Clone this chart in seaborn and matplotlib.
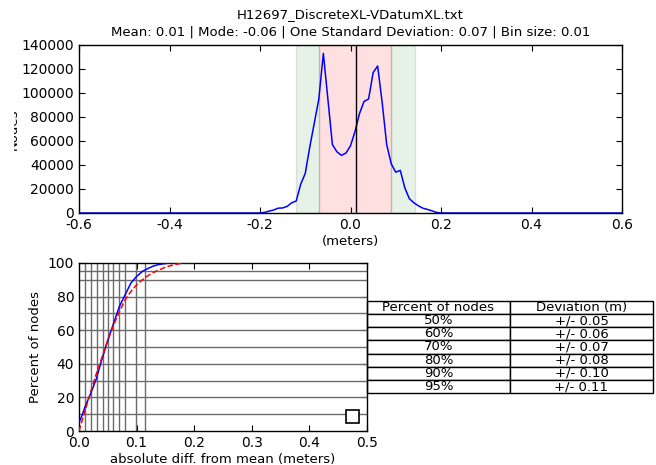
import numpy as np
import pandas as pd
import matplotlib
matplotlib.use("Agg")
import matplotlib.pyplot as plt
import seaborn as sns
from matplotlib.patches import Rectangle

# histogram of differences (bin size 0.01)
hist_x = [-0.6, -0.20, -0.19, -0.18, -0.17, -0.16, -0.15, -0.14, -0.13, -0.12, -0.11,
          -0.10, -0.09, -0.08, -0.07, -0.06, -0.05, -0.04, -0.03, -0.02, -0.01,
          0.00, 0.01, 0.02, 0.03, 0.04, 0.05, 0.06, 0.07, 0.08, 0.09,
          0.10, 0.11, 0.12, 0.13, 0.14, 0.15, 0.16, 0.17, 0.18, 0.19, 0.20, 0.6]
hist_counts = [0, 0, 500, 1500, 2500, 4000, 4200, 5500, 8500, 10000, 24000,
               33000, 55000, 75000, 95000, 133000, 95000, 57000, 51000, 48000, 50000,
               56000, 68000, 83000, 93000, 95000, 117000, 122500, 92000, 57000, 41000,
               34000, 35500, 21000, 12000, 8500, 6000, 4000, 3000, 1800, 500, 0, 0]

mean_val = 0.0115
sd_band = (-0.069, 0.0895)
wide_band = (-0.12, 0.1425)

# cumulative percent of nodes vs absolute diff from mean
cdf_x = [0.0, 0.005, 0.01, 0.02, 0.03, 0.04, 0.05, 0.06, 0.07, 0.08, 0.09,
         0.10, 0.11, 0.12, 0.13, 0.14, 0.15, 0.16, 0.20]
cdf_pct = [5, 9, 14, 22, 31, 43, 54, 64, 74, 81, 88,
           92, 95, 96.8, 98.3, 99.2, 99.7, 100, 100]

norm_x = [0.0, 0.01, 0.02, 0.03, 0.04, 0.05, 0.06, 0.07, 0.08, 0.09,
          0.10, 0.11, 0.12, 0.13, 0.14, 0.15, 0.16, 0.17, 0.18]
norm_pct = [0, 11.5, 23, 34, 44, 54, 63, 71, 78, 83,
            87, 90, 92.5, 94.5, 96, 97.5, 98.5, 99.3, 100]

pct_levels = [10, 20, 30, 40, 50, 60, 70, 80, 90, 95]
pct_dev = [0.011, 0.021, 0.031, 0.041, 0.050, 0.059, 0.069, 0.080, 0.099, 0.114]

table_pct = ["50%", "60%", "70%", "80%", "90%", "95%"]
table_dev = ["+/- 0.05", "+/- 0.06", "+/- 0.07", "+/- 0.08", "+/- 0.10", "+/- 0.11"]

sns.set_style("ticks")
plt.rcParams.update({
    "font.family": ["DejaVu Sans"],
    "font.size": 9.5,
    "xtick.labelsize": 10,
    "ytick.labelsize": 10,
    "axes.unicode_minus": False,
    "xtick.direction": "in",
    "ytick.direction": "in",
    "xtick.top": True,
    "ytick.right": True,
    "xtick.major.size": 4,
    "ytick.major.size": 4,
    "xtick.color": "k",
    "ytick.color": "k",
    "axes.edgecolor": "k",
    "axes.linewidth": 1.0,
    "text.color": "k",
    "axes.labelcolor": "k",
})

W, H = 656, 465
fig = plt.figure(figsize=(W / 100, H / 100), dpi=100)
ax1 = fig.add_axes([79 / W, 1 - 213 / H, 543 / W, 168 / H])
ax2 = fig.add_axes([79 / W, 1 - 431 / H, 288 / W, 168 / H])

# top: histogram line
ax1.axvspan(wide_band[0], sd_band[0], facecolor="g", edgecolor="k", alpha=0.1, lw=1)
ax1.axvspan(sd_band[1], wide_band[1], facecolor="g", edgecolor="k", alpha=0.1, lw=1)
ax1.axvspan(sd_band[0], sd_band[1], facecolor="r", edgecolor="k", alpha=0.12, lw=1)
sns.lineplot(x=hist_x, y=hist_counts, ax=ax1, color="b", lw=1.1)
ax1.axvline(mean_val, color="k", lw=1)
ax1.set_xlim(-0.6, 0.6)
ax1.set_ylim(0, 140000)
ax1.set_xticks([-0.6, -0.4, -0.2, 0.0, 0.2, 0.4, 0.6])
ax1.set_yticks([0, 20000, 40000, 60000, 80000, 100000, 120000, 140000])
ax1.set_xlabel("(meters)", labelpad=2)
ax1.set_title("H12697_DiscreteXL-VDatumXL.txt\n"
              "Mean: 0.01 | Mode: -0.06 | One Standard Deviation: 0.07 | Bin size: 0.01",
              fontsize=9.5, pad=7, linespacing=1.4)
ax1.set_ylabel("Nodes")
ax1.yaxis.set_label_coords((20 - 79) / 543, 0.5)

# bottom: cumulative percent
for p in pct_levels:
    ax2.axhline(p, color="0.42", lw=1, zorder=1)
for d in pct_dev:
    ax2.axvline(d, color="0.42", lw=1, zorder=1)
sns.lineplot(x=cdf_x, y=cdf_pct, ax=ax2, color="b", lw=1.1, zorder=3)
sns.lineplot(x=norm_x, y=norm_pct, ax=ax2, color="r", lw=1.1, linestyle="--", zorder=3)
ax2.set_xlim(0, 0.5)
ax2.set_ylim(0, 100)
ax2.set_xticks([0.0, 0.1, 0.2, 0.3, 0.4, 0.5])
ax2.set_yticks([0, 20, 40, 60, 80, 100])
ax2.set_xlabel("absolute diff. from mean (meters)", labelpad=2)
ax2.set_ylabel("Percent of nodes")
leg = ax2.legend(handles=[], loc="lower right", fancybox=False, edgecolor="k",
                 framealpha=1, borderpad=0.5, borderaxespad=0.6)
leg.get_frame().set_linewidth(1.2)

tbl = ax2.table(cellText=[[p, d] for p, d in zip(table_pct, table_dev)],
                colLabels=["Percent of nodes", "Deviation (m)"],
                cellLoc="center", colLoc="center",
                bbox=[1.0, (431 - 393.3) / 168, 286 / 288, 92.6 / 168])
tbl.auto_set_font_size(False)
tbl.set_fontsize(9.5)
for cell in tbl.get_celld().values():
    cell.set_edgecolor("k")
    cell.set_linewidth(1)

# the reference image is cropped just through the top y label
fig.add_artist(Rectangle((0, 0), 14 / W, 1, transform=fig.transFigure,
                         facecolor="white", edgecolor="none", zorder=10))

fig.savefig("out.png", dpi=100)
